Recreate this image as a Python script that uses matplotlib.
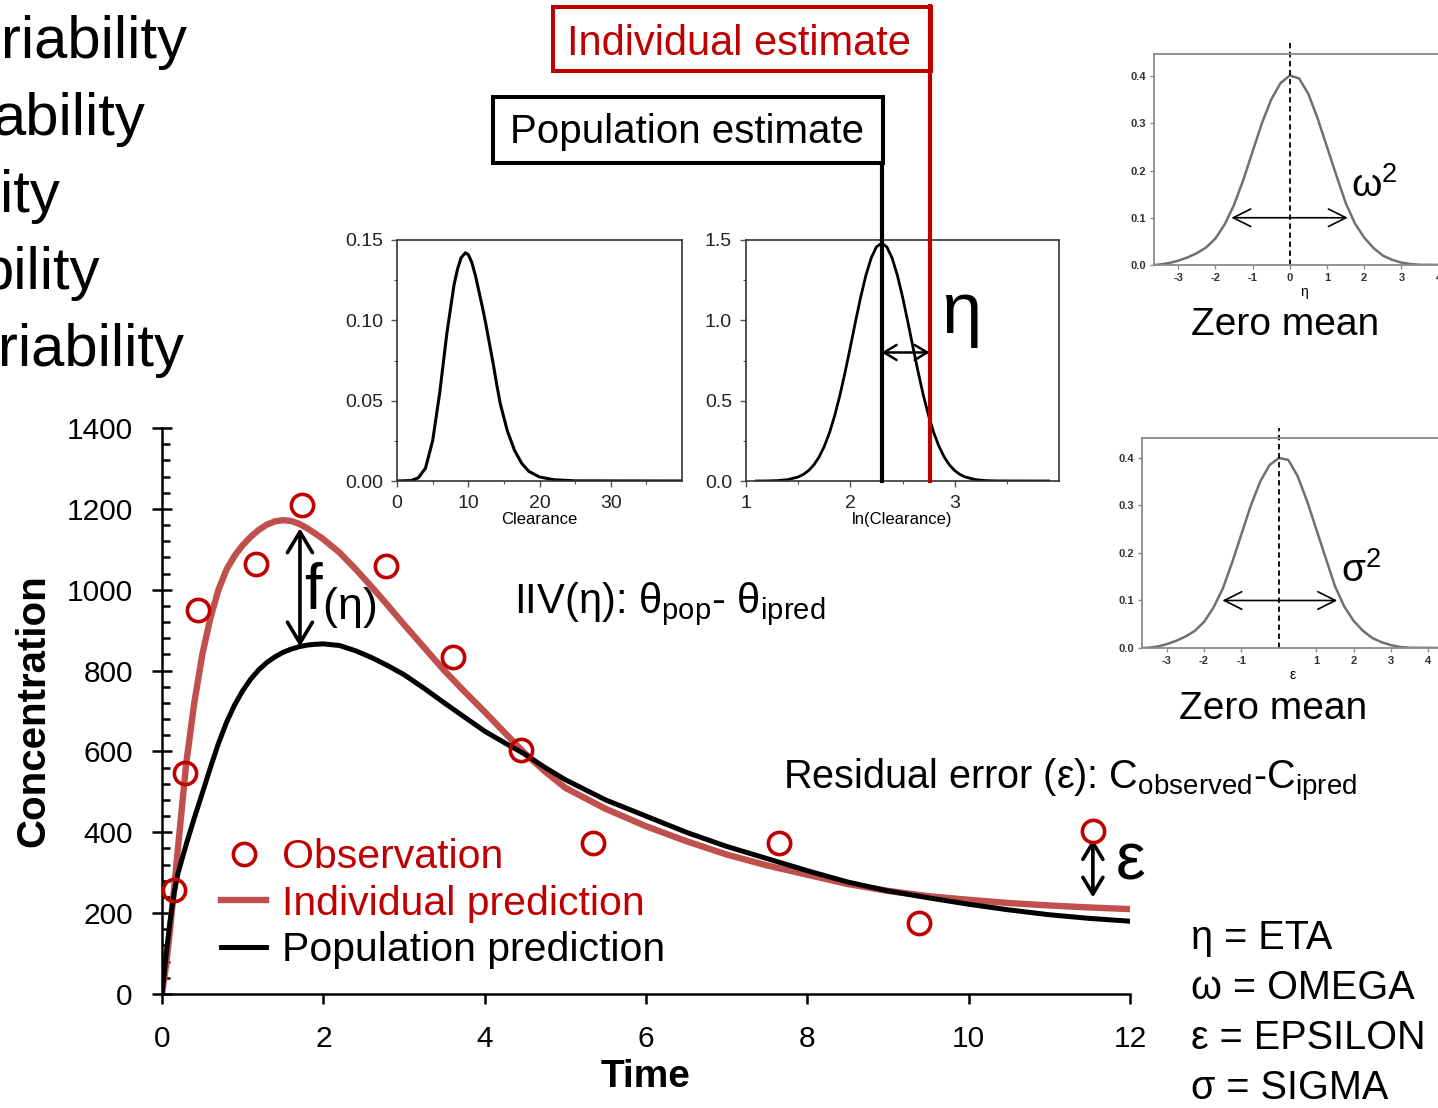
import numpy as np
import matplotlib.pyplot as plt
from matplotlib.patches import Rectangle

plt.rcParams['font.family'] = ['Liberation Sans', 'DejaVu Sans']
plt.rcParams['mathtext.fontset'] = 'custom'
plt.rcParams['mathtext.rm'] = 'Liberation Sans'
plt.rcParams['mathtext.it'] = 'Liberation Sans:italic'
plt.rcParams['mathtext.bf'] = 'Liberation Sans:bold'

# observed concentrations
obs_time = [0.15, 0.29, 0.45, 1.17, 1.74, 2.78, 3.61, 4.45, 5.34, 7.65, 9.38, 11.54]
obs_conc = [257, 547, 950, 1064, 1209, 1059, 834, 603, 373, 373, 176, 403]

# model predictions
pred_time = [0, 0.05, 0.1, 0.15, 0.2, 0.3, 0.4, 0.5, 0.6, 0.7, 0.8, 0.9, 1.0,
             1.1, 1.2, 1.3, 1.4, 1.5, 1.6, 1.7, 1.8, 1.9, 2.0, 2.2, 2.4, 2.6,
             2.8, 3.0, 3.25, 3.5, 3.75, 4.0, 4.25, 4.5, 4.75, 5.0, 5.5, 6.0,
             6.5, 7.0, 7.5, 8.0, 8.5, 9.0, 9.5, 10.0, 10.5, 11.0, 11.5, 12.0]
ipred = [0, 70, 160, 260, 365, 570, 720, 840, 930, 1000, 1050, 1084, 1110,
         1131, 1148, 1161, 1169, 1172, 1170, 1163, 1152, 1139, 1125, 1092, 1051, 1007,
         961, 914, 857, 800, 748, 698, 646, 595, 550, 510, 458, 415,
         378, 345, 318, 295, 272, 255, 242, 233, 225, 219, 214, 210]
pred = [0, 95, 180, 250, 300, 370, 435, 497, 560, 620, 672, 715, 750,
        779, 802, 820, 834, 845, 853, 859, 863, 865, 866, 862, 849, 832,
        812, 790, 756, 720, 685, 650, 621, 593, 560, 530, 480, 440,
        400, 365, 335, 305, 277, 255, 238, 222, 208, 196, 187, 180]

# clearance distribution
cl = [0, 2, 3, 4, 5, 6, 7, 8, 8.5, 9, 9.6, 10, 10.5, 11, 11.5, 12, 12.5, 13,
      13.5, 14, 14.5, 15.5, 16.5, 17.5, 18.5, 20, 22, 25, 40]
cl_dens = [0, 0.0003, 0.002, 0.008, 0.025, 0.055, 0.092, 0.122, 0.132, 0.139,
           0.142, 0.141, 0.136, 0.128, 0.118, 0.108, 0.097, 0.085, 0.073, 0.060,
           0.048, 0.031, 0.019, 0.011, 0.006, 0.0025, 0.0008, 0.0001, 0]

# ln(clearance) distribution
lncl = [1.1, 1.2, 1.3, 1.4, 1.5, 1.55, 1.6, 1.65, 1.7, 1.75, 1.8, 1.85, 1.9,
        1.95, 2.0, 2.05, 2.1, 2.15, 2.2, 2.25, 2.3, 2.35, 2.4, 2.45, 2.5, 2.55,
        2.6, 2.65, 2.7, 2.75, 2.8, 2.85, 2.9, 2.95, 3.0, 3.05, 3.1, 3.2, 3.3,
        3.4, 3.9]
lncl_dens = [0, 0.0007, 0.0025, 0.0085, 0.025, 0.041, 0.065, 0.100, 0.149,
             0.215, 0.300, 0.407, 0.533, 0.678, 0.834, 0.994, 1.147, 1.282,
             1.388, 1.457, 1.48, 1.457, 1.388, 1.282, 1.147, 0.994, 0.834,
             0.678, 0.533, 0.407, 0.300, 0.215, 0.149, 0.100, 0.065, 0.041,
             0.025, 0.0085, 0.0025, 0.0007, 0]
theta_pop = 2.3
theta_ipred = 2.76

# eta and epsilon distributions
eta = [-3.65, -3.5, -3.25, -3.0, -2.75, -2.5, -2.25, -2.0, -1.75, -1.5, -1.25,
       -1.0, -0.75, -0.5, -0.25, 0.0, 0.25, 0.5, 0.75, 1.0, 1.25, 1.5, 1.75,
       2.0, 2.25, 2.5, 2.75, 3.0, 3.25, 3.5, 4.4]
eta_dens = [0, 0.001, 0.004, 0.009, 0.016, 0.025, 0.037, 0.056, 0.086, 0.127,
            0.18, 0.24, 0.30, 0.35, 0.385, 0.401, 0.395, 0.362, 0.31, 0.25,
            0.19, 0.132, 0.088, 0.058, 0.036, 0.02, 0.011, 0.005, 0.002,
            0.0005, 0]
eps = [-3.66, -3.5, -3.25, -3.0, -2.75, -2.5, -2.25, -2.0, -1.75, -1.5, -1.25,
       -1.0, -0.75, -0.5, -0.25, 0.0, 0.25, 0.5, 0.75, 1.0, 1.25, 1.5, 1.75,
       2.0, 2.25, 2.5, 2.75, 3.0, 3.25, 3.5, 4.4]
eps_dens = [0, 0.0005, 0.003, 0.008, 0.015, 0.024, 0.036, 0.055, 0.085, 0.125,
            0.18, 0.24, 0.30, 0.35, 0.385, 0.400, 0.396, 0.362, 0.31, 0.25,
            0.19, 0.13, 0.087, 0.057, 0.036, 0.021, 0.012, 0.006, 0.002,
            0.0005, 0]

RED = '#C00000'
IRED = '#C0504D'

W, H = 1438, 1108
fig = plt.figure(figsize=(W / 100, H / 100), dpi=100)


def box(l, t, r, b):
    return [l / W, 1 - b / H, (r - l) / W, (b - t) / H]


def fx(px):
    return px / W


def fy(py):
    return 1 - py / H


# ---- main concentration-time plot
ax = fig.add_axes(box(162, 428, 1130, 994))
l_ipred, = ax.plot(pred_time, ipred, color=IRED, lw=4.6, zorder=2)
l_pred, = ax.plot(pred_time, pred, color='black', lw=3.6, zorder=3)
l_obs, = ax.plot(obs_time, obs_conc, 'o', ms=16, mfc='none', mec=RED, mew=2.6,
                 zorder=4, clip_on=False)
ax.set_xlim(0, 12)
ax.set_ylim(0, 1400)
ax.set_xticks(range(0, 13, 2))
ax.set_yticks(range(0, 1401, 200))
ax.set_yticks(np.arange(0, 1401, 40), minor=True)
for s in ['top', 'right']:
    ax.spines[s].set_visible(False)
for s in ['left', 'bottom']:
    ax.spines[s].set_linewidth(1.8)
ax.tick_params(axis='y', which='major', direction='inout', length=14, width=1.8,
               labelsize=21.5, pad=14)
ax.tick_params(axis='y', which='minor', direction='in', length=6, width=1.8)
ax.tick_params(axis='x', direction='out', length=7, width=1.8, labelsize=21.5, pad=15)
ax.set_ylabel('Concentration', fontsize=29, fontweight='bold')
ax.yaxis.set_label_coords(-0.113, 0.5)
ax.set_xlabel('Time', fontsize=28, fontweight='bold')
ax.xaxis.set_label_coords(0.5, -0.114)

ax.legend([l_obs, l_ipred, l_pred],
          ['Observation', 'Individual prediction', 'Population prediction'],
          loc='upper left', bbox_to_anchor=(fx(221), fy(838)),
          bbox_transform=fig.transFigure, frameon=False, fontsize=29.5,
          handlelength=1.1, handletextpad=0.4, labelspacing=0.21,
          borderpad=0, borderaxespad=0, labelcolor=[RED, RED, 'black'])

# f(eta) arrow between population and individual curves
t_arrow = 1.71
ax.annotate('', xy=(t_arrow, np.interp(t_arrow, pred_time, pred)),
            xytext=(t_arrow, np.interp(t_arrow, pred_time, ipred) - 10),
            arrowprops=dict(arrowstyle='<->,head_length=0.5,head_width=0.3',
                            lw=2.6, color='black', shrinkA=0, shrinkB=0,
                            mutation_scale=30))
fig.text(fx(304), fy(610), 'f$_{\\mathregular{(η)}}$', fontsize=46, va='baseline')

# epsilon arrow between observation and individual prediction
t_eps = obs_time[-1]
ax.annotate('', xy=(t_eps, obs_conc[-1] - 20),
            xytext=(t_eps, np.interp(t_eps, pred_time, ipred) + 25),
            arrowprops=dict(arrowstyle='<->,head_length=0.5,head_width=0.3',
                            lw=2.6, color='black', shrinkA=0, shrinkB=0,
                            mutation_scale=24))
fig.text(fx(1116), fy(880), 'ε', fontsize=48, va='baseline')

fig.text(fx(514), fy(613), 'IIV(η): θ$_{\\mathregular{pop}}$- θ$_{\\mathregular{ipred}}$',
         fontsize=30, va='baseline')
fig.text(fx(783), fy(789),
         'Residual error (ε): C$_{\\mathregular{observed}}$-C$_{\\mathregular{ipred}}$',
         fontsize=28.5, va='baseline')

# ---- clearance inset
ax_cl = fig.add_axes(box(397, 240, 682, 481))
ax_cl.plot(cl, cl_dens, color='black', lw=2.2)
ax_cl.set_xlim(0, 40)
ax_cl.set_ylim(0, 0.15)
ax_cl.set_xticks([0, 10, 20, 30])
ax_cl.set_xticks([5, 15, 25, 35], minor=True)
ax_cl.set_yticks([0, 0.05, 0.10, 0.15])
ax_cl.set_yticklabels(['0.00', '0.05', '0.10', '0.15'])
ax_cl.set_yticks([0.025, 0.075, 0.125], minor=True)
ax_cl.set_xlabel('Clearance', fontsize=12, labelpad=0)

# ---- ln(clearance) inset
ax_ln = fig.add_axes(box(746, 240, 1059, 481))
ax_ln.plot(lncl, lncl_dens, color='black', lw=2.0)
ax_ln.set_xlim(1, 4)
ax_ln.set_ylim(0, 1.5)
ax_ln.set_xticks([1, 2, 3])
ax_ln.set_xticks([1.5, 2.5, 3.5], minor=True)
ax_ln.set_yticks([0, 0.5, 1.0, 1.5])
ax_ln.set_yticklabels(['0.0', '0.5', '1.0', '1.5'])
ax_ln.set_yticks([0.25, 0.75, 1.25], minor=True)
ax_ln.set_xlabel('ln(Clearance)', fontsize=12, labelpad=0)

for a in (ax_cl, ax_ln):
    for s in a.spines.values():
        s.set_linewidth(1.2)
        s.set_color('#333333')
    a.tick_params(which='major', length=4, width=1, color='#555555',
                  labelsize=14, pad=6, labelcolor='#222222')
    a.tick_params(which='minor', length=2.5, width=0.8, color='#555555')

ax_ln.axvline(theta_pop, ymin=0, ymax=(481 - 163) / 241, color='black', lw=3,
              clip_on=False, zorder=5)
ax_ln.axvline(theta_ipred, ymin=0, ymax=(481 - 6) / 241, color=RED, lw=3,
              clip_on=False, zorder=5)
ax_ln.annotate('', xy=(theta_pop, 0.8), xytext=(theta_ipred, 0.8),
               arrowprops=dict(arrowstyle='<->,head_length=0.5,head_width=0.3',
                               lw=1.8, color='black', shrinkA=0, shrinkB=0,
                               mutation_scale=18))
fig.text(fx(961), fy(333), 'η', fontsize=52, ha='center', va='baseline')

# estimate boxes
fig.patches.append(Rectangle((fx(553), fy(71)), (931 - 553) / W, (71 - 7) / H,
                             transform=fig.transFigure, fill=False, ec=RED, lw=2.9))
fig.patches.append(Rectangle((fx(493), fy(163)), (883 - 493) / W, (163 - 97) / H,
                             transform=fig.transFigure, fill=False, ec='black', lw=2.9))
fig.text(fx(739), fy(55), 'Individual estimate', color=RED, fontsize=30,
         ha='center', va='baseline')
fig.text(fx(687), fy(143), 'Population estimate', color='black', fontsize=29,
         ha='center', va='baseline')


# ---- zero-mean normal insets
def normal_inset(rect, x, dens, xlim, ylim, xticks, dash_top, arr, xlab, sym, sym_xy):
    a = fig.add_axes(rect)
    a.plot(x, dens, color='#707070', lw=1.8)
    a.set_xlim(*xlim)
    a.set_ylim(*ylim)
    a.axvline(0, ymin=0, ymax=dash_top, color='black', lw=1.3, ls=(0, (3, 2)),
              clip_on=False)
    a.annotate('', xy=(arr[0], 0.1), xytext=(arr[1], 0.1),
               arrowprops=dict(arrowstyle='<->,head_length=0.9,head_width=0.45',
                               lw=1.2, color='black', shrinkA=0, shrinkB=0,
                               mutation_scale=14))
    a.set_xticks(xticks)
    a.set_xticklabels([str(v) for v in xticks])
    a.set_yticks([0, 0.1, 0.2, 0.3, 0.4])
    a.set_yticklabels(['0.0', '0.1', '0.2', '0.3', '0.4'])
    a.spines['right'].set_visible(False)
    for s in ['left', 'bottom', 'top']:
        a.spines[s].set_color('#8a8a8a')
        a.spines[s].set_linewidth(1.3)
    a.tick_params(length=3, width=1, color='#8a8a8a', labelsize=8, pad=3,
                  labelcolor='#333333')
    for lab in a.get_xticklabels() + a.get_yticklabels():
        lab.set_fontweight('bold')
    a.set_xlabel(xlab, fontsize=10, labelpad=1)
    fig.text(fx(sym_xy[0]), fy(sym_xy[1]), sym + '$^{\\mathregular{2}}$',
             fontsize=28, va='baseline')
    return a


normal_inset(box(1154, 54, 1154 + 8.05 * 37.2, 265), eta, eta_dens,
             (-3.65, 4.4), (0, 0.4466), [-3, -2, -1, 0, 1, 2, 3, 4], 1.066,
             (-1.57, 1.56), 'η', 'ω', (1351, 197))
normal_inset(box(1142, 438, 1142 + 8.06 * 37.4, 648), eps, eps_dens,
             (-3.66, 4.4), (0, 0.442), [-3, -2, -1, 1, 2, 3, 4], 1.05,
             (-1.51, 1.56), 'ε', 'σ', (1341, 582))
fig.text(fx(1285), fy(335), 'Zero mean', fontsize=28, ha='center', va='baseline')
fig.text(fx(1273), fy(719), 'Zero mean', fontsize=28, ha='center', va='baseline')

# ---- glossary
for i, s in enumerate(['η = ETA', 'ω = OMEGA', 'ε = EPSILON', 'σ = SIGMA']):
    fig.text(fx(1191), fy(949 + 50 * i), s, fontsize=28.5, va='baseline')

# ---- bullet text cut off at the left edge
for s, xr, yb in zip(['riability', 'ability', 'ity', 'bility', 'riability'],
                     [187, 145, 60, 100, 184], [58, 135, 212, 289, 366]):
    fig.text(fx(xr), fy(yb), s, fontsize=43, ha='right', va='baseline')

fig.savefig('out.png', dpi=100)
